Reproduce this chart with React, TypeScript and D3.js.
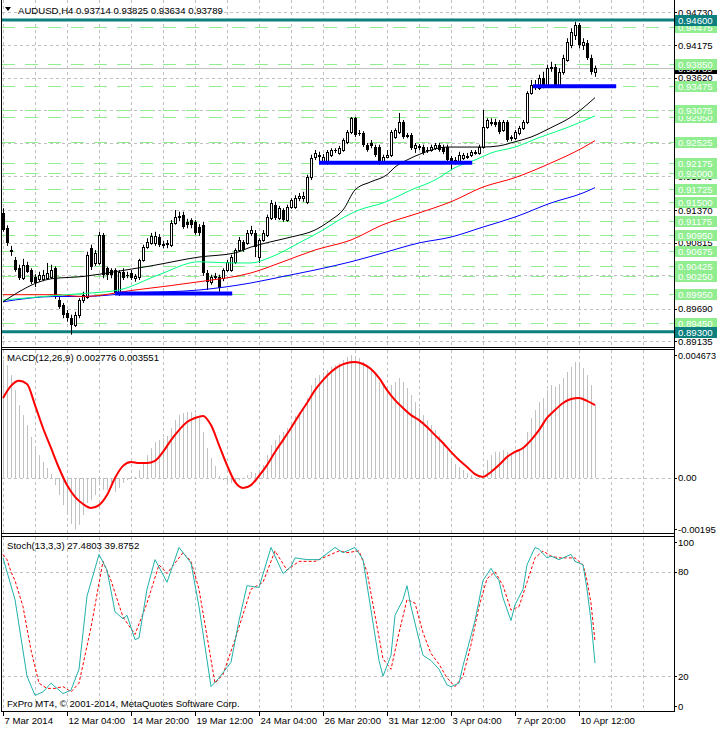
import React from "react";
import * as d3 from "d3";

// AUDUSD H4 candles: [open, high, low, close]
const candles: number[][] = [
  [0.9132,0.9140,0.9100,0.9103],[0.9106,0.9111,0.9076,0.9081],[0.9069,0.9076,0.9059,0.9066],[0.9052,0.9057,0.9032,0.9035],
  [0.9038,0.9044,0.9018,0.9021],[0.9021,0.9054,0.9018,0.9044],[0.9044,0.9049,0.9030,0.9032],[0.9035,0.9038,0.9011,0.9015],
  [0.9023,0.9028,0.9006,0.9013],[0.9019,0.9032,0.9015,0.9027],[0.9019,0.9035,0.9016,0.9027],[0.9021,0.9047,0.9018,0.9030],
  [0.9023,0.9044,0.9020,0.9035],[0.9038,0.9041,0.8986,0.8989],[0.8984,0.8989,0.8969,0.8972],[0.8976,0.8979,0.8953,0.8959],
  [0.8962,0.8967,0.8947,0.8953],[0.8953,0.8959,0.8925,0.8942],[0.8942,0.8964,0.8938,0.8959],[0.8959,0.8987,0.8953,0.8984],
  [0.8984,0.8998,0.8979,0.8993],[0.8989,0.9066,0.8986,0.9061],[0.9072,0.9078,0.9035,0.9040],[0.9047,0.9069,0.9042,0.9064],
  [0.9047,0.9100,0.9044,0.9095],[0.9095,0.9098,0.9021,0.9027],[0.9038,0.9041,0.9018,0.9027],[0.9035,0.9038,0.9021,0.9027],
  [0.9035,0.9038,0.8993,0.8996],[0.8996,0.9035,0.8991,0.9032],[0.9032,0.9038,0.9018,0.9021],[0.9027,0.9032,0.9021,0.9026],
  [0.9030,0.9035,0.9018,0.9021],[0.9021,0.9028,0.9015,0.9025],[0.9023,0.9054,0.9018,0.9052],[0.9052,0.9078,0.9049,0.9074],
  [0.9074,0.9089,0.9071,0.9083],[0.9081,0.9098,0.9078,0.9093],[0.9081,0.9100,0.9076,0.9093],[0.9091,0.9096,0.9074,0.9078],
  [0.9078,0.9084,0.9072,0.9079],[0.9081,0.9086,0.9072,0.9078],[0.9078,0.9120,0.9074,0.9115],[0.9115,0.9137,0.9112,0.9125],
  [0.9125,0.9134,0.9118,0.9127],[0.9129,0.9134,0.9105,0.9108],[0.9117,0.9122,0.9106,0.9112],[0.9120,0.9123,0.9106,0.9112],
  [0.9117,0.9120,0.9095,0.9098],[0.9108,0.9113,0.9093,0.9098],[0.9112,0.9117,0.9025,0.9030],[0.9030,0.9035,0.9001,0.9015],
  [0.9015,0.9027,0.9010,0.9023],[0.9023,0.9030,0.9018,0.9025],[0.9023,0.9027,0.8998,0.9004],[0.9021,0.9038,0.9016,0.9035],
  [0.9035,0.9052,0.9032,0.9049],[0.9035,0.9061,0.9032,0.9057],[0.9049,0.9072,0.9045,0.9069],[0.9069,0.9091,0.9066,0.9086],
  [0.9083,0.9086,0.9066,0.9069],[0.9081,0.9103,0.9078,0.9098],[0.9098,0.9110,0.9093,0.9103],[0.9098,0.9103,0.9057,0.9074],
  [0.9057,0.9089,0.9047,0.9086],[0.9086,0.9103,0.9083,0.9098],[0.9095,0.9129,0.9091,0.9125],[0.9123,0.9154,0.9120,0.9149],
  [0.9146,0.9151,0.9120,0.9123],[0.9123,0.9144,0.9120,0.9140],[0.9137,0.9140,0.9117,0.9120],[0.9120,0.9146,0.9117,0.9142],
  [0.9142,0.9157,0.9139,0.9154],[0.9142,0.9162,0.9139,0.9157],[0.9157,0.9166,0.9152,0.9161],[0.9157,0.9168,0.9151,0.9161],
  [0.9151,0.9197,0.9147,0.9193],[0.9193,0.9231,0.9188,0.9226],[0.9227,0.9239,0.9222,0.9234],[0.9231,0.9236,0.9219,0.9227],
  [0.9219,0.9232,0.9215,0.9227],[0.9219,0.9239,0.9214,0.9236],[0.9231,0.9242,0.9227,0.9239],[0.9239,0.9242,0.9234,0.9237],
  [0.9234,0.9246,0.9231,0.9242],[0.9239,0.9259,0.9236,0.9256],[0.9253,0.9273,0.9249,0.9270],[0.9270,0.9295,0.9266,0.9293],
  [0.9293,0.9295,0.9261,0.9264],[0.9268,0.9273,0.9263,0.9266],[0.9268,0.9271,0.9244,0.9248],[0.9248,0.9251,0.9236,0.9239],
  [0.9251,0.9256,0.9242,0.9246],[0.9244,0.9248,0.9227,0.9231],[0.9244,0.9248,0.9214,0.9217],[0.9219,0.9231,0.9215,0.9227],
  [0.9227,0.9239,0.9225,0.9231],[0.9231,0.9273,0.9227,0.9270],[0.9261,0.9276,0.9258,0.9273],[0.9270,0.9302,0.9266,0.9287],
  [0.9287,0.9290,0.9258,0.9261],[0.9263,0.9268,0.9259,0.9264],[0.9264,0.9268,0.9239,0.9242],[0.9242,0.9251,0.9234,0.9248],
  [0.9244,0.9249,0.9239,0.9246],[0.9244,0.9248,0.9231,0.9234],[0.9239,0.9244,0.9234,0.9237],[0.9239,0.9248,0.9236,0.9244],
  [0.9242,0.9251,0.9239,0.9248],[0.9248,0.9251,0.9236,0.9239],[0.9244,0.9248,0.9232,0.9236],[0.9244,0.9248,0.9219,0.9222],
  [0.9225,0.9229,0.9205,0.9217],[0.9222,0.9227,0.9214,0.9219],[0.9219,0.9236,0.9215,0.9231],[0.9225,0.9234,0.9222,0.9231],
  [0.9227,0.9234,0.9224,0.9229],[0.9231,0.9239,0.9227,0.9236],[0.9234,0.9239,0.9231,0.9236],[0.9234,0.9248,0.9231,0.9244],
  [0.9244,0.9307,0.9241,0.9278],[0.9278,0.9293,0.9275,0.9290],[0.9285,0.9293,0.9280,0.9287],[0.9287,0.9292,0.9278,0.9282],
  [0.9287,0.9290,0.9266,0.9270],[0.9273,0.9290,0.9270,0.9287],[0.9287,0.9290,0.9253,0.9256],[0.9259,0.9264,0.9254,0.9261],
  [0.9259,0.9273,0.9256,0.9270],[0.9268,0.9280,0.9264,0.9276],[0.9276,0.9290,0.9273,0.9287],[0.9287,0.9339,0.9283,0.9336],
  [0.9336,0.9358,0.9333,0.9350],[0.9350,0.9358,0.9341,0.9344],[0.9344,0.9367,0.9341,0.9361],[0.9361,0.9372,0.9344,0.9350],
  [0.9350,0.9384,0.9346,0.9378],[0.9378,0.9389,0.9372,0.9380],[0.9380,0.9385,0.9346,0.9350],[0.9350,0.9378,0.9346,0.9372],
  [0.9372,0.9401,0.9367,0.9395],[0.9392,0.9429,0.9389,0.9423],[0.9418,0.9446,0.9412,0.9440],[0.9435,0.9457,0.9426,0.9452],
  [0.9452,0.9455,0.9412,0.9418],[0.9418,0.9429,0.9409,0.9423],[0.9421,0.9426,0.9392,0.9395],[0.9395,0.9401,0.9367,0.9372],
  [0.93714,0.93825,0.93634,0.93789],
];

// moving averages, sampled at bar indices
const blackIdx = [0,12,20,28,37,49,58,62,67,72,78,82,85,88,92,96,98,101,105,111,120,124,128,132,137,142,148];
const blackMa = [0.8981,0.9020,0.9024,0.9032,0.9042,0.9057,0.9064,0.9074,0.9083,0.9091,0.9103,0.9120,0.9137,0.9171,0.9185,0.9197,0.9210,0.9222,0.9234,0.9244,0.9244,0.9246,0.9253,0.9261,0.9277,0.9295,0.9328];
const greenIdx = [0,12,20,29,39,49,57,62,67,74,80,84,89,95,102,108,113,118,122,128,134,141,148];
const greenMa = [0.8984,0.8991,0.8995,0.9001,0.9027,0.9049,0.9047,0.9047,0.9057,0.9081,0.9103,0.9120,0.9137,0.9149,0.9171,0.9188,0.9209,0.9222,0.9234,0.9244,0.9260,0.9277,0.9297];
const redIdx = [0,13,20,33,49,62,70,78,87,95,104,112,120,128,137,145,148];
const redMa = [0.8993,0.8993,0.8990,0.9001,0.9015,0.9030,0.9049,0.9069,0.9086,0.9112,0.9132,0.9151,0.9176,0.9192,0.9217,0.9243,0.9255];
const blueIdx = [0,13,20,33,49,62,70,78,87,95,104,112,120,128,137,145,148];
const blueMa = [0.8981,0.8990,0.8990,0.8996,0.9001,0.9013,0.9024,0.9035,0.9049,0.9064,0.9081,0.9091,0.9108,0.9125,0.9149,0.9166,0.9175];

// horizontal levels
const greenLevels = [0.8945,0.8995,0.9025,0.90425,0.90675,0.9095,0.91175,0.915,0.91725,0.92,0.92175,0.92525,0.9295,0.93075,0.93475,0.9385,0.94475];
const tealLevels = [0.946, 0.893];
const supportLevel = [0.8995, 0.92175, 0.93475];
const supportFrom = [28, 79, 132.5];
const supportTo = [57.3, 117.3, 153.3];
const lastPrice = 0.93789;
const priceTicks = [0.9473,0.94175,0.9362,0.93065,0.9251,0.9194,0.9137,0.90815,0.9026,0.8969,0.89135];

// MACD(12,26,9)
const macdMain = [
  0.00448,0.00429,0.00391,0.00334,0.00277,0.00239,0.00201,0.00156,0.00118,0.00087,
  0.00061,0.00038,0.00015,-0.00027,-0.00065,-0.00103,-0.00129,-0.00175,-0.00195,-0.00178,
  -0.00141,-0.00095,-0.00084,-0.00065,-0.00027,-0.00046,-0.00046,-0.00038,-0.00053,-0.00038,
  -0.00019,-0.00008,0.00002,0.00004,0.0003,0.00061,0.00087,0.00114,0.00137,0.00144,
  0.00152,0.0016,0.0019,0.0022,0.00239,0.00247,0.00251,0.00251,0.00243,0.00228,
  0.00175,0.00114,0.00076,0.00046,0.00008,-0.00008,-0.00015,-0.00019,-0.00015,-0.00008,
  0.00001,0.00011,0.00023,0.00019,0.0003,0.00049,0.00087,0.00125,0.00144,0.00163,
  0.00175,0.0019,0.00213,0.00236,0.00251,0.00266,0.00304,0.00353,0.0038,0.00391,
  0.00403,0.0041,0.00422,0.00429,0.00437,0.00448,0.0046,0.004673,0.00463,0.00456,
  0.00441,0.00422,0.0041,0.00391,0.00365,0.00353,0.00342,0.00353,0.00365,0.0038,
  0.00365,0.00342,0.00315,0.00289,0.00266,0.00239,0.0022,0.00201,0.00182,0.0016,
  0.00137,0.00106,0.00076,0.00053,0.00042,0.0003,0.00019,0.00011,0.00004,0.00004,
  0.0003,0.00068,0.00087,0.00099,0.00099,0.00106,0.00099,0.00095,0.00099,0.00106,
  0.00118,0.00175,0.00228,0.00258,0.00289,0.00304,0.00334,0.00353,0.00346,0.00357,
  0.0038,0.00403,0.00422,0.00441,0.00429,0.00418,0.00391,0.00353,0.002776,
];
// signal, every second bar
const macdSignal = [
  0.00304,0.0035,0.00369,0.00357,0.00277,0.0019,0.00114,0.00038,-0.00027,-0.00072,
  -0.00099,-0.00114,-0.00103,-0.00065,0,0.00046,0.00061,0.00057,0.00057,0.00065,
  0.00099,0.00144,0.00182,0.00213,0.00228,0.00236,0.00201,0.00125,0.00049,-0.00015,
  -0.00038,-0.00027,0.00008,0.00049,0.00099,0.00144,0.0019,0.00239,0.00285,0.00334,
  0.00372,0.00403,0.00425,0.00437,0.00441,0.00433,0.00414,0.0038,0.00334,0.00296,
  0.00266,0.00239,0.0022,0.00194,0.00163,0.00133,0.00099,0.00068,0.00042,0.00015,
  0.00004,0.00023,0.00049,0.0008,0.00099,0.00114,0.00144,0.00182,0.00228,0.00258,
  0.00285,0.003,0.00304,0.00293,0.00277,
];

// Stoch(13,3,3)
const kIdx = [0,3,6,8,10,12,15,17,19,21,24,26,28,30,31,33,34,36,38,41,44,47,49,52,54,57,59,61,64,67,70,72,73,76,79,83,85,88,90,92,94,95,97,98,100,101,102,104,105,107,109,111,112,114,115,118,120,122,123,124,125,127,128,130,131,133,134,136,137,139,140,142,143,145,146,147,148];
const kVal = [88,64,20,9,11,16,10,12,24,66,90,81,57,53,55,41,42,70,87,74,94,85,60,14,19,28,52,72,71,94,79,83,88,87,87,94,91,94,87,58,29,20,32,55,64,72,60,41,32,29,24,15,14,16,26,52,75,82,78,75,65,52,61,70,84,94,93,88,89,87,88,90,86,84,70,52,27.48];
const dIdx = [0,1,2,3,5,7,9,11,13,15,17,19,22,25,27,30,33,36,39,41,45,47,49,53,55,58,62,65,68,71,74,78,81,84,86,89,91,93,95,97,99,101,103,105,107,109,111,113,115,117,119,121,123,125,127,129,131,133,135,137,139,141,143,145,146,147,148];
const dVal = [90,87,80,75,60,35,16,13,13,14,11,16,48,86,75,54,44,62,84,79,91,86,70,16,21,41,70,74,92,81,86,86,89,92,91,92,80,55,30,24,45,64,62,45,33,27,19,14,20,38,60,76,80,72,58,60,74,88,92,89,88,88,88,84,75,62,39.88];

const dateIdx = [0,16,32,48,64,80,96,112,128,144];
const dateLabels = ["7 Mar 2014","12 Mar 04:00","14 Mar 20:00","19 Mar 12:00","24 Mar 04:00","26 Mar 20:00","31 Mar 12:00","3 Apr 04:00","7 Apr 20:00","10 Apr 12:00"];

const W = 717, H = 729;
const AX = 674; // right axis line
const FONT = "'Liberation Sans', Arial, sans-serif";
const FS = 9.6;
const GRID = "#c0c0c0";
const LGREEN = "#90ee90";
const TEAL = "#0c7f7f";

const xs = d3.scaleLinear().domain([0, 168]).range([3, 675]);
const yP = d3.scaleLinear().domain([0.89058, 0.9494]).range([346, 0]);
const yM = d3.scaleLinear().domain([-0.00209, 0.004863]).range([533, 350]);
const yS = d3.scaleLinear().domain([0, 100]).range([711, 537]);

const px = (i: number) => Math.round(xs(i)) + 0.5;

const App: React.FC = () => {
  const gridX = d3.range(0, 169, 8).map(px).filter((x) => x < AX);

  const maLine = (idx: number[], vals: number[]) =>
    d3.line<number>().x((_, k) => xs(idx[k])).y((v) => yP(v)).curve(d3.curveMonotoneX)(vals) || "";
  const sigLine = d3.line<number>().x((_, k) => xs(k * 2)).y((v) => yM(v)).curve(d3.curveMonotoneX)(macdSignal) || "";
  const kLine = d3.line<number>().x((_, k) => xs(kIdx[k])).y((v) => yS(v))(kVal) || "";
  const dLine = d3.line<number>().x((_, k) => xs(dIdx[k])).y((v) => yS(v))(dVal) || "";

  const vGrid = (top: number, bot: number) =>
    gridX.map((x, k) => (
      <line key={k} x1={x} x2={x} y1={top} y2={bot} stroke={GRID} strokeDasharray="3,3" />
    ));

  const hLine = (y: number, key: string | number) => (
    <line key={key} x1={2} x2={AX} y1={Math.round(y) + 0.5} y2={Math.round(y) + 0.5} stroke={GRID} strokeDasharray="3,3" />
  );

  const axisLabel = (y: number, text: string, key: string | number, fit?: number) => (
    <g key={key}>
      <line x1={AX} x2={AX + 3} y1={Math.round(y) + 0.5} y2={Math.round(y) + 0.5} stroke="#000" />
      <text x={AX + 4} y={y + 3.5} fontSize={FS} fill="#000"
        {...(fit ? {textLength: fit, lengthAdjust: "spacingAndGlyphs"} : {})}>{text}</text>
    </g>
  );

  const boxLabel = (v: number, fill: string, key: string | number) => {
    const y = yP(v);
    return (
      <g key={key}>
        <rect x={AX + 1} y={Math.round(y) - 5} width={W - AX - 1} height={11} fill={fill} />
        <text x={AX + 4} y={Math.round(y) + 4} fontSize={FS} fill="#fff">{v.toFixed(5)}</text>
      </g>
    );
  };

  return (
    <svg width={W} height={H} style={{position: "absolute", left: 0, top: 0, background: "#fff"}} fontFamily={FONT}>
      <defs>
        <clipPath id="cMain"><rect x={2} y={0} width={AX - 2} height={347} /></clipPath>
        <clipPath id="cMacd"><rect x={2} y={350} width={AX - 2} height={183} /></clipPath>
        <clipPath id="cSt"><rect x={2} y={537} width={AX - 2} height={174} /></clipPath>
      </defs>
      <rect width={W} height={H} fill="#fff" />

      {/* ---------- main panel ---------- */}
      <g clipPath="url(#cMain)">
        {vGrid(0, 347)}
        {priceTicks.map((t, k) => hLine(yP(t), "pt" + k))}
        {greenLevels.map((v, k) => (
          <line key={"gl" + k} x1={2} x2={AX} y1={Math.round(yP(v)) + 0.5} y2={Math.round(yP(v)) + 0.5}
            stroke={LGREEN} strokeDasharray="13,10" />
        ))}
        {tealLevels.map((v, k) => (
          <line key={"tl" + k} x1={2} x2={AX} y1={yP(v)} y2={yP(v)} stroke={TEAL} strokeWidth={3} />
        ))}
        <line x1={2} x2={AX} y1={Math.round(yP(lastPrice)) + 0.5} y2={Math.round(yP(lastPrice)) + 0.5} stroke={GRID} />

        {candles.map(([o, h, l, c], i) => {
          const x = px(i);
          const top = Math.round(yP(Math.max(o, c)));
          const bot = Math.round(yP(Math.min(o, c)));
          return (
            <g key={"c" + i}>
              <line x1={x} x2={x} y1={yP(h)} y2={yP(l)} stroke="#000" />
              {c >= o ? (
                <rect x={x - 1} y={top + 0.5} width={2} height={Math.max(bot - top, 1)} fill="#fff" stroke="#000" />
              ) : (
                <rect x={x - 1.5} y={top} width={3} height={Math.max(bot - top, 1)} fill="#000" />
              )}
            </g>
          );
        })}

        <path d={maLine(blueIdx, blueMa)} fill="none" stroke="#0000ff" />
        <path d={maLine(redIdx, redMa)} fill="none" stroke="#ff0000" />
        <path d={maLine(greenIdx, greenMa)} fill="none" stroke="#00ff7f" />
        <path d={maLine(blackIdx, blackMa)} fill="none" stroke="#000" />

        {supportLevel.map((v, k) => (
          <line key={"s" + k} x1={xs(supportFrom[k])} x2={xs(supportTo[k])} y1={yP(v)} y2={yP(v)} stroke="#0000ff" strokeWidth={4} />
        ))}
      </g>

      <path d="M5,7 L11,7 L8,11 Z" fill="#000" />
      <text x={18} y={14} fontSize={FS} fill="#000">AUDUSD,H4  0.93714 0.93825 0.93634 0.93789</text>

      {/* right price scale */}
      {priceTicks.map((t, k) => axisLabel(yP(t), t.toFixed(5), "pl" + k))}
      <g>
        <rect x={AX + 1} y={Math.round(yP(lastPrice)) - 5} width={W - AX - 1} height={11} fill="#000" />
        <text x={AX + 4} y={Math.round(yP(lastPrice)) + 4} fontSize={FS} fill="#fff">{lastPrice.toFixed(5)}</text>
      </g>
      {greenLevels.map((v, k) => boxLabel(v, LGREEN, "gb" + k))}
      {tealLevels.map((v, k) => boxLabel(v, TEAL, "tb" + k))}

      {/* ---------- MACD panel ---------- */}
      <g clipPath="url(#cMacd)">
        {vGrid(350, 533)}
        {hLine(yM(0), "m0")}
        {macdMain.map((v, i) => (
          <line key={"h" + i} x1={px(i)} x2={px(i)} y1={yM(0)} y2={yM(v)} stroke="#c0c0c0" />
        ))}
        <path d={sigLine} fill="none" stroke="#ff0000" strokeWidth={2} />
      </g>
      <text x={7} y={361} fontSize={FS} fill="#000">MACD(12,26,9) 0.002776 0.003551</text>
      {axisLabel(yM(0.004673), "0.004673", "ma", 38)}
      {axisLabel(yM(0), "0.00", "mb")}
      {axisLabel(yM(-0.00195), "-0.00195", "mc")}

      {/* ---------- Stochastic panel ---------- */}
      <g clipPath="url(#cSt)">
        {vGrid(537, 711)}
        {hLine(yS(80), "s80")}
        {hLine(yS(20), "s20")}
        <path d={dLine} fill="none" stroke="#ff0000" strokeDasharray="3,2" />
        <path d={kLine} fill="none" stroke="#20b2aa" />
      </g>
      <text x={7} y={549} fontSize={FS} fill="#000">Stoch(13,3,3) 27.4803 39.8752</text>
      <text x={7} y={707} fontSize={FS} fill="#000">FxPro MT4, © 2001-2014, MetaQuotes Software Corp.</text>
      {[100, 80, 20, 0].map((v, k) => axisLabel(v === 100 ? yS(v) + 5 : v === 0 ? yS(v) - 5 : yS(v), String(v), "sl" + k))}

      {/* panel frames */}
      <line x1={1.5} x2={1.5} y1={0} y2={712} stroke="#000" />
      <line x1={AX + 0.5} x2={AX + 0.5} y1={0} y2={712} stroke="#000" />
      <line x1={1} x2={AX + 1} y1={347.5} y2={347.5} stroke="#000" />
      <line x1={1} x2={AX + 1} y1={349.5} y2={349.5} stroke="#000" />
      <line x1={1} x2={AX + 1} y1={533.5} y2={533.5} stroke="#000" />
      <line x1={1} x2={AX + 1} y1={536.5} y2={536.5} stroke="#000" />
      <line x1={1} x2={AX + 1} y1={711.5} y2={711.5} stroke="#000" />

      {/* time axis */}
      {dateIdx.map((d, k) => (
        <g key={"d" + k}>
          <line x1={px(d)} x2={px(d)} y1={712} y2={716} stroke="#000" />
          <text x={px(d) + 1} y={724} fontSize={FS} fill="#000">{dateLabels[k]}</text>
        </g>
      ))}
    </svg>
  );
};

export default App;
